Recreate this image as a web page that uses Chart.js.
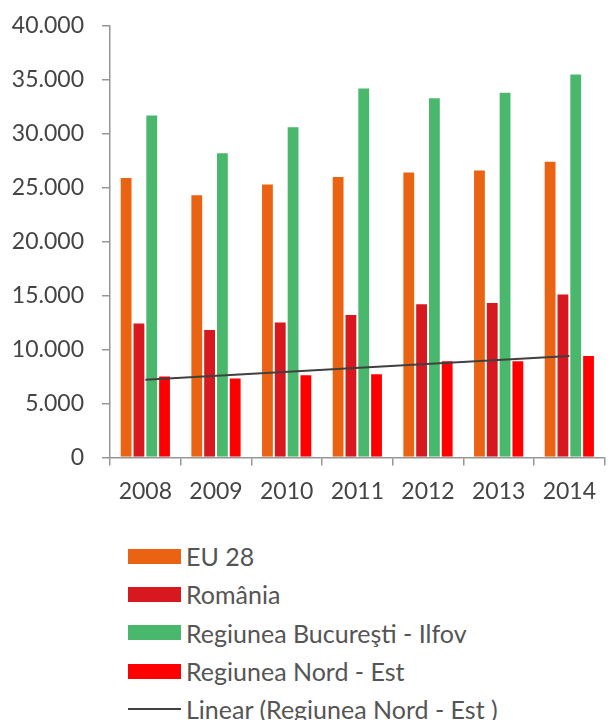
<!DOCTYPE html>
<html>
<head>
<meta charset="utf-8">
<script src="https://cdn.jsdelivr.net/npm/chart.js@4.4.0/dist/chart.umd.min.js"></script>
<style>
    body { margin: 0; background: #fff; }
    #wrap { position: relative; width: 608px; height: 720px; }
    #chart { position: absolute; left: 0; top: 0; }
    #legend { position: absolute; left: 128px; top: 537px; font-family: Lato, sans-serif; font-size: 25px; color: #555; }
    .row { display: flex; align-items: center; height: 38.3px; }
    .swatch { width: 53px; height: 15px; margin-right: 5px; }
    .line { width: 53px; height: 2px; margin-right: 5px; }
</style>
</head>
<body>
<div id="wrap">
    <canvas id="chart" width="608" height="525"></canvas>
    <div id="legend"></div>
</div>
<script>
// Ani
const years = ['2008', '2009', '2010', '2011', '2012', '2013', '2014'];

// Valori
const eu28 = [26000, 24400, 25400, 26100, 26500, 26700, 27500];
const romania = [12500, 11900, 12600, 13300, 14300, 14400, 15200];
const bucurestiIlfov = [31800, 28300, 30700, 34300, 33400, 33900, 35600];
const nordEst = [7600, 7400, 7700, 7800, 9000, 9000, 9500];

// Linia de trend (capetele)
const trendNordEst = [7200, null, null, null, null, null, 9400];

const yTicks = { min: 0, max: 40000, step: 5000 };

const axisColor = '#969696';
const tickFont = { family: 'Lato', size: 23 };

const chart = new Chart(document.getElementById('chart').getContext('2d'), {
    type: 'bar',
    data: {
        labels: years,
        datasets: [
            { label: 'EU 28', data: eu28, backgroundColor: '#EA6313', order: 1 },
            { label: 'România', data: romania, backgroundColor: '#D7191F', order: 1 },
            { label: 'Regiunea Bucureşti - Ilfov', data: bucurestiIlfov, backgroundColor: '#49B86C', order: 1 },
            { label: 'Regiunea Nord - Est', data: nordEst, backgroundColor: '#FF0000', order: 1 },
            {
                type: 'line',
                label: 'Linear (Regiunea Nord - Est )',
                data: trendNordEst,
                spanGaps: true,
                borderColor: '#404040',
                borderWidth: 2,
                pointRadius: 0,
                order: 0
            }
        ]
    },
    options: {
        responsive: false,
        animation: false,
        layout: { padding: { top: 26, right: 0, bottom: 8, left: 0 } },
        datasets: {
            bar: { categoryPercentage: 0.725, barPercentage: 1, borderWidth: 1, borderColor: 'rgba(255,255,255,0.3)' }
        },
        scales: {
            x: {
                grid: { display: true, drawOnChartArea: false, drawTicks: true, tickLength: 8, color: axisColor, lineWidth: 1.5, offset: true },
                border: { color: axisColor, width: 1.5 },
                ticks: { font: tickFont, color: '#444', padding: 12, maxRotation: 0 }
            },
            y: {
                min: yTicks.min,
                max: yTicks.max,
                afterFit: scale => {
                    scale.width = 110;
                    scale.paddingTop = 0;
                    scale.paddingBottom = 0;
                },
                grid: { display: true, drawOnChartArea: false, drawTicks: true, tickLength: 8, color: axisColor, lineWidth: 1.5 },
                border: { color: axisColor, width: 1.5 },
                ticks: {
                    stepSize: yTicks.step,
                    font: tickFont,
                    color: '#444',
                    padding: 18,
                    callback: v => v.toLocaleString('de-DE')
                }
            }
        },
        plugins: {
            legend: { display: false },
            tooltip: { enabled: false }
        }
    }
});

// Legenda verticala sub grafic
document.getElementById('legend').innerHTML = chart.data.datasets.map(ds => `
    <div class="row">
        <div class="${ds.type === 'line' ? 'line' : 'swatch'}" style="background: ${ds.type === 'line' ? ds.borderColor : ds.backgroundColor}"></div>
        <span>${ds.label}</span>
    </div>
`).join('');
</script>
</body>
</html>
